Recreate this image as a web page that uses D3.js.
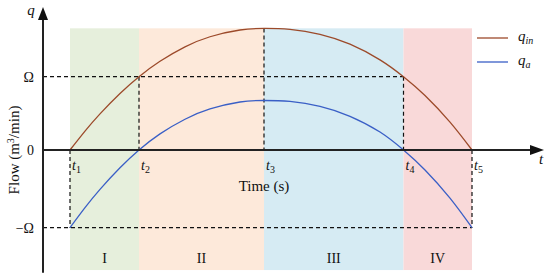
<!DOCTYPE html>
<html>
<head>
<meta charset="utf-8">
<script src="https://cdn.jsdelivr.net/npm/d3@7"></script>
<style>
  body { margin: 0; background: #fff; }
  text { font-family: "Liberation Serif", "DejaVu Serif", serif; fill: #111; }
  .it { font-style: italic; }
</style>
</head>
<body>
<script>
(function(){

    //time marks t1..t5 (arbitrary time units)
    var tVals = [1.08, 3.84, 8.84, 14.42, 17.16];
    var tNames = ["1", "2", "3", "4", "5"];

    //stage bands between the time marks
    var stageNames = ["I", "II", "III", "IV"];
    var stageColors = ["#e6efdc", "#fde9da", "#d6ebf3", "#f9d9d9"];

    //flow in units of Omega
    var timeSamples = [1.08, 1.68, 2.28, 3.08, 3.84, 4.68, 5.68, 6.68, 7.88, 8.84,
                       9.88, 11.08, 12.28, 13.48, 14.42, 15.28, 16.28, 17.16];
    var qIn = [0, 0.258, 0.493, 0.771, 1.0, 1.21, 1.407, 1.545, 1.637, 1.658,
               1.645, 1.579, 1.444, 1.23, 1.0, 0.743, 0.38, 0];
    var qA = [-1, -0.742, -0.507, -0.229, 0, 0.22, 0.42, 0.56, 0.655, 0.675,
              0.662, 0.596, 0.46, 0.245, 0, -0.257, -0.62, -1];

    //y tick labels
    var yTickVals = [1, 0, -1];
    var yTickNames = ["Ω", "0", "−Ω"];

    var width = 550, height = 279;

    var svg = d3.select("body").append("svg")
        .attr("width", width)
        .attr("height", height);

    var x = d3.scaleLinear().domain([0, 20]).range([43, 543]);
    //polylinear: the two halves are drawn with slightly different spacing
    var y = d3.scaleLinear().domain([-1, 0, 1]).range([227.7, 150, 76.7]);

    var bandTop = 1.66, bandBottom = -1.545;

    //stage backgrounds
    svg.selectAll(".band")
        .data(stageNames)
        .enter()
        .append("rect")
        .attr("class", "band")
        .attr("x", function(d, i){ return x(tVals[i]); })
        .attr("width", function(d, i){ return x(tVals[i + 1]) - x(tVals[i]); })
        .attr("y", y(bandTop))
        .attr("height", y(bandBottom) - y(bandTop))
        .style("fill", function(d, i){ return stageColors[i]; });

    //stage numerals
    svg.selectAll(".stage")
        .data(stageNames)
        .enter()
        .append("text")
        .attr("x", function(d, i){ return (x(tVals[i]) + x(tVals[i + 1])) / 2; })
        .attr("y", 263)
        .attr("text-anchor", "middle")
        .style("font-size", "14px")
        .text(function(d){ return d; });

    //dashed guide lines
    var dash = svg.append("g")
        .attr("stroke", "#111")
        .attr("stroke-width", 1.2)
        .attr("stroke-dasharray", "4,3")
        .attr("fill", "none");

    var guides = [
        [0, 1, tVals[3], 1],
        [0, -1, tVals[4], -1],
        [tVals[0], 0, tVals[0], -1],
        [tVals[1], 1, tVals[1], 0],
        [tVals[2], 1.658, tVals[2], 0],
        [tVals[3], 1, tVals[3], 0],
        [tVals[4], 0, tVals[4], -1]
    ];
    dash.selectAll("line")
        .data(guides)
        .enter()
        .append("line")
        .attr("x1", function(d){ return x(d[0]); })
        .attr("y1", function(d){ return y(d[1]); })
        .attr("x2", function(d){ return x(d[2]); })
        .attr("y2", function(d){ return y(d[3]); });

    //flow curves
    var line = d3.line()
        .x(function(d, i){ return x(timeSamples[i]); })
        .y(function(d){ return y(d); })
        .curve(d3.curveNatural);

    svg.append("path")
        .attr("d", line(qIn))
        .attr("fill", "none")
        .attr("stroke", "#9c4a2a")
        .attr("stroke-width", 1.3);

    svg.append("path")
        .attr("d", line(qA))
        .attr("fill", "none")
        .attr("stroke", "#3a5fc6")
        .attr("stroke-width", 1.3);

    //axes with arrow heads
    var axisColor = "#222";
    svg.append("line")
        .attr("x1", x(0)).attr("y1", y(-1.58))
        .attr("x2", x(0)).attr("y2", 18)
        .attr("stroke", axisColor).attr("stroke-width", 2);
    svg.append("path")
        .attr("d", "M" + (x(0) - 5) + ",20L" + x(0) + ",7L" + (x(0) + 5) + ",20Z")
        .attr("fill", "#111");

    svg.append("line")
        .attr("x1", x(0)).attr("y1", y(0))
        .attr("x2", 532).attr("y2", y(0))
        .attr("stroke", axisColor).attr("stroke-width", 2);
    svg.append("path")
        .attr("d", "M530," + (y(0) - 5) + "L544," + y(0) + "L530," + (y(0) + 5) + "Z")
        .attr("fill", "#111");

    //axis symbols
    svg.append("text")
        .attr("class", "it")
        .attr("x", 31).attr("y", 15)
        .attr("text-anchor", "middle")
        .style("font-size", "15px")
        .text("q");
    svg.append("text")
        .attr("class", "it")
        .attr("x", 541).attr("y", 164)
        .attr("text-anchor", "middle")
        .style("font-size", "15px")
        .text("t");

    //y tick labels
    svg.selectAll(".ytick")
        .data(yTickVals)
        .enter()
        .append("text")
        .attr("x", 34)
        .attr("y", function(d){ return y(d) + 5; })
        .attr("text-anchor", "end")
        .style("font-size", "14px")
        .text(function(d, i){ return yTickNames[i]; });

    //time mark labels
    var tl = svg.selectAll(".tlab")
        .data(tVals)
        .enter()
        .append("text")
        .attr("x", function(d){ return x(d) + 2; })
        .attr("y", 170)
        .style("font-size", "14px");
    tl.append("tspan").attr("class", "it").text("t");
    tl.append("tspan")
        .attr("dy", 3)
        .style("font-size", "10px")
        .text(function(d, i){ return tNames[i]; });

    //axis titles
    svg.append("text")
        .attr("x", 264).attr("y", 191)
        .attr("text-anchor", "middle")
        .style("font-size", "15px")
        .text("Time (s)");

    var yTitle = svg.append("text")
        .attr("transform", "translate(19,150) rotate(-90)")
        .attr("text-anchor", "middle")
        .style("font-size", "15px");
    yTitle.append("tspan").text("Flow (m");
    yTitle.append("tspan").attr("dy", -5).style("font-size", "10px").text("3");
    yTitle.append("tspan").attr("dy", 5).text("/min)");

    //legend
    var legendNames = ["in", "a"];
    var legendColors = ["#9c4a2a", "#3a5fc6"];
    var legend = svg.selectAll(".legend")
        .data(legendNames)
        .enter()
        .append("g")
        .attr("transform", function(d, i){ return "translate(477," + (38 + i * 24) + ")"; });
    legend.append("line")
        .attr("x1", 0).attr("x2", 31)
        .attr("stroke", function(d, i){ return legendColors[i]; })
        .attr("stroke-width", 1.3);
    var lt = legend.append("text")
        .attr("class", "it")
        .attr("x", 41).attr("y", 3)
        .style("font-size", "15px");
    lt.append("tspan").text("q");
    lt.append("tspan").attr("dy", 3).style("font-size", "10px").text(function(d){ return d; });

})();
</script>
</body>
</html>
